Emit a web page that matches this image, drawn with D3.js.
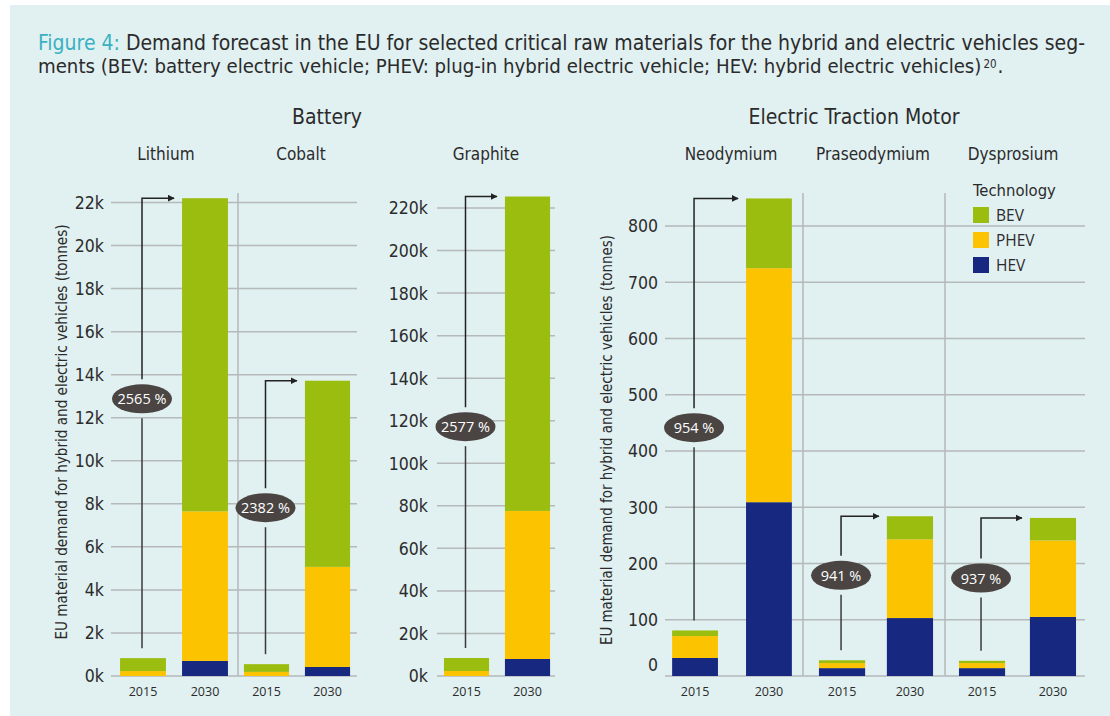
<!DOCTYPE html>
<html><head><meta charset="utf-8">
<script src="https://cdn.jsdelivr.net/npm/d3@7"></script>
<style>
html,body{margin:0;padding:0;background:#fff;}
svg{display:block;}
</style></head>
<body>
<svg id="chart" width="1110" height="716"></svg>
<script>
// ---------------- DATA ----------------
const years = ["2015", "2030"];
const technologies = ["HEV", "PHEV", "BEV"];
const legendOrder = ["BEV", "PHEV", "HEV"];
const materials = ["Lithium", "Cobalt", "Graphite", "Neodymium", "Praseodymium", "Dysprosium"];
const panels = ["Battery", "Electric Traction Motor"];
// tonnes, per material [2015, 2030]
const hev  = [[0, 700],   [0, 420],   [0, 8000],     [32, 309], [14, 103], [14, 105]];
const phev = [[230, 6950],[190, 4650],[2350, 69600], [39, 416], [9, 140],  [9, 136]];
const bev  = [[600, 14550],[360, 8650],[6100, 147800],[10, 124],[5, 41],   [4, 40]];
const growthLabels = ["2565 %", "2382 %", "2577 %", "954 %", "941 %", "937 %"];
const ticksLithiumCobalt = [0, 2000, 4000, 6000, 8000, 10000, 12000, 14000, 16000, 18000, 20000, 22000];
const ticksGraphite = [0, 20000, 40000, 60000, 80000, 100000, 120000, 140000, 160000, 180000, 200000, 220000];
const ticksMotor = [0, 100, 200, 300, 400, 500, 600, 700, 800];
const yAxisTitle = "EU material demand for hybrid and electric vehicles (tonnes)";
const legendTitle = "Technology";
const titleLabel = "Figure 4:";
const titleLine1 = " Demand forecast in the EU for selected critical raw materials for the hybrid and electric vehicles seg-";
const titleLine2 = "ments (BEV: battery electric vehicle; PHEV: plug-in hybrid electric vehicle; HEV: hybrid electric vehicles)";
const footnoteRef = "20";

// ---------------- STYLE / LAYOUT ----------------
const colors = {BEV: "#9abd0f", PHEV: "#fbc300", HEV: "#16287f"};
const BG = "#e1f0f1", GRID = "#b5b9b9", TXT = "#2b2b2b";
const FONT = "'Liberation Sans Narrow','DejaVu Sans Condensed','Roboto Condensed',sans-serif";
const FONT2 = "'Open Sans','DejaVu Sans',sans-serif";

const svg = d3.select("#chart");
svg.append("rect").attr("x", 10).attr("y", 5).attr("width", 1100).attr("height", 711).attr("fill", BG);

// Title
const title = svg.append("text").attr("x", 38).attr("y", 50)
  .attr("font-family", FONT).attr("font-size", 20.5).attr("fill", TXT)
  .attr("textLength", 1047).attr("lengthAdjust", "spacingAndGlyphs");
title.append("tspan").attr("fill", "#39b1c2").text(titleLabel);
title.append("tspan").text(titleLine1);
const line2 = svg.append("text").attr("x", 38).attr("y", 73)
  .attr("font-family", FONT).attr("font-size", 20.5).attr("fill", TXT).text(titleLine2);
const nat = line2.node().getComputedTextLength();
line2.attr("font-size", 20.5 * 944 / nat);
const l2end = 38 + line2.node().getComputedTextLength();
const sup = svg.append("text").attr("x", l2end + 2).attr("y", 67.5)
  .attr("font-family", FONT).attr("font-size", 11.5).attr("fill", TXT).text(footnoteRef);
const supEnd = l2end + 2 + sup.node().getComputedTextLength();
svg.append("text").attr("x", supEnd + 1).attr("y", 73)
  .attr("font-family", FONT).attr("font-size", 20.5).attr("fill", TXT).text(".");

// Panel titles
svg.append("text").attr("x", 327).attr("y", 124).attr("text-anchor", "middle")
  .attr("font-family", FONT).attr("font-size", 21).attr("fill", TXT).text(panels[0]);
svg.append("text").attr("x", 854).attr("y", 124).attr("text-anchor", "middle")
  .attr("font-family", FONT).attr("font-size", 21).attr("fill", TXT).text(panels[1]);

// Scales
const yLC = d3.scaleLinear().domain([0, 22000]).range([676, 202.5]);
const yG = d3.scaleLinear().domain([0, 220000]).range([676, 208]);
const yM = d3.scaleLinear().domain([0, 800]).range([676, 226]);
const kfmt = v => (v / 1000) + "k";

function facetScale(x0, x1, pi, po) {
  return d3.scaleBand().domain(years).range([x0, x1]).paddingInner(pi).paddingOuter(po);
}
const facets = [
  {x: facetScale(112, 236, 0.26, 0.13), y: yLC, labelX: 166},
  {x: facetScale(236, 358, 0.26, 0.13), y: yLC, labelX: 301},
  {x: facetScale(436, 558, 0.26, 0.13), y: yG,  labelX: 486},
  {x: facetScale(664, 800, 0.38, 0.11), y: yM,  labelX: 731},
  {x: facetScale(803, 949, 0.32, 0.235), y: yM, labelX: 873},
  {x: facetScale(945, 1090, 0.35, 0.197), y: yM, labelX: 1013}
];
const badgeFrac = [0.58, 0.57, 0.52, 0.52, 0.63, 0.62];

// Gridlines + axes
function gridAxis(y, ticks, x0, x1, axisX, fmt, zeroShift) {
  const g = svg.append("g");
  g.selectAll("line").data(ticks).join("line")
    .attr("x1", x0).attr("x2", x1)
    .attr("y1", d => y(d)).attr("y2", d => y(d))
    .attr("stroke", GRID).attr("stroke-width", 1.5);
  const ax = svg.append("g").attr("transform", `translate(${axisX},0)`)
    .call(d3.axisLeft(y).tickValues(ticks).tickFormat(fmt).tickSize(0).tickPadding(0));
  ax.select(".domain").remove();
  ax.selectAll("text").attr("font-family", FONT).attr("font-size", 17.5).attr("fill", TXT)
    .attr("dy", d => (d === 0 && zeroShift) ? "-0.3em" : "0.34em");
}
gridAxis(yLC, ticksLithiumCobalt, 111, 357, 104, kfmt, false);
gridAxis(yG, ticksGraphite, 437, 555, 428, kfmt, false);
gridAxis(yM, ticksMotor, 665, 1085, 658, d => d, true);

// Facet separators
[[238, yLC], [803, yM], [945, yM]].forEach(([x, y]) => {
  svg.append("line").attr("x1", x).attr("x2", x).attr("y1", 193).attr("y2", y(0))
    .attr("stroke", GRID).attr("stroke-width", 1.5);
});

// Y axis titles
svg.append("text").attr("transform", "translate(67,432) rotate(-90)").attr("text-anchor", "middle")
  .attr("font-family", FONT).attr("font-size", 16.5).attr("fill", TXT)
  .attr("textLength", 415).attr("lengthAdjust", "spacingAndGlyphs").text(yAxisTitle);
svg.append("text").attr("transform", "translate(612,440) rotate(-90)").attr("text-anchor", "middle")
  .attr("font-family", FONT).attr("font-size", 16.5).attr("fill", TXT)
  .attr("textLength", 410).attr("lengthAdjust", "spacingAndGlyphs").text(yAxisTitle);

// Arrowhead marker
svg.append("defs").append("marker").attr("id", "arr").attr("viewBox", "0 0 10 10")
  .attr("refX", 9).attr("refY", 5).attr("markerWidth", 7).attr("markerHeight", 7)
  .attr("markerUnits", "userSpaceOnUse").attr("orient", "auto")
  .append("path").attr("d", "M0,0L10,5L0,10Z").attr("fill", "#222");

const stackGen = d3.stack().keys(technologies);

materials.forEach((m, i) => {
  const f = facets[i];
  const rows = years.map((yr, j) => ({year: yr, HEV: hev[i][j], PHEV: phev[i][j], BEV: bev[i][j]}));
  const series = stackGen(rows);
  const g = svg.append("g");
  series.forEach(s => {
    g.selectAll(null).data(s).join("rect")
      .attr("x", d => f.x(d.data.year))
      .attr("width", f.x.bandwidth())
      .attr("y", d => f.y(d[1]))
      .attr("height", d => Math.max(0, f.y(d[0]) - f.y(d[1])))
      .attr("fill", colors[s.key]);
  });
  // facet label
  svg.append("text").attr("x", f.labelX).attr("y", 160).attr("text-anchor", "middle")
    .attr("font-family", FONT).attr("font-size", 17).attr("fill", TXT).text(m);
  // year labels
  years.forEach(yr => {
    svg.append("text").attr("x", f.x(yr) + f.x.bandwidth() / 2).attr("y", 696)
      .attr("text-anchor", "middle").attr("font-family", FONT2).attr("font-size", 12.5)
      .attr("fill", TXT).text(yr);
  });
  // growth arrow
  const tot0 = hev[i][0] + phev[i][0] + bev[i][0];
  const tot1 = hev[i][1] + phev[i][1] + bev[i][1];
  const ax = f.x("2015") + f.x.bandwidth() / 2 - 1;
  const yBottom = f.y(tot0) - 10;
  const yTop = f.y(tot1);
  const by = f.y(tot1 * badgeFrac[i]);
  const rx = 30, ry = 14.5;
  svg.append("line").attr("x1", ax).attr("x2", ax).attr("y1", yBottom).attr("y2", by + ry + 5)
    .attr("stroke", "#3a3a3a").attr("stroke-width", 1.5);
  svg.append("path")
    .attr("d", `M${ax},${by - ry - 5}V${yTop}H${f.x("2030") - 8}`)
    .attr("fill", "none").attr("stroke", "#222").attr("stroke-width", 1.5)
    .attr("marker-end", "url(#arr)");
  svg.append("ellipse").attr("cx", ax).attr("cy", by).attr("rx", rx).attr("ry", ry).attr("fill", "#4a4542");
  svg.append("text").attr("x", ax).attr("y", by + 5.5).attr("text-anchor", "middle")
    .attr("font-family", FONT2).attr("font-size", 14.5).attr("fill", "#fff").text(growthLabels[i]);
});

// Legend
svg.append("text").attr("x", 973).attr("y", 196).attr("font-family", FONT)
  .attr("font-size", 16.5).attr("fill", TXT).text(legendTitle);
const lg = svg.append("g").selectAll("g").data(legendOrder).join("g")
  .attr("transform", (d, i) => `translate(973,${207 + i * 25})`);
lg.append("rect").attr("width", 16).attr("height", 16).attr("fill", d => colors[d]);
lg.append("text").attr("x", 23).attr("y", 14).attr("font-family", FONT2).attr("font-size", 15.5)
  .attr("fill", TXT).text(d => d);
</script>
</body></html>
